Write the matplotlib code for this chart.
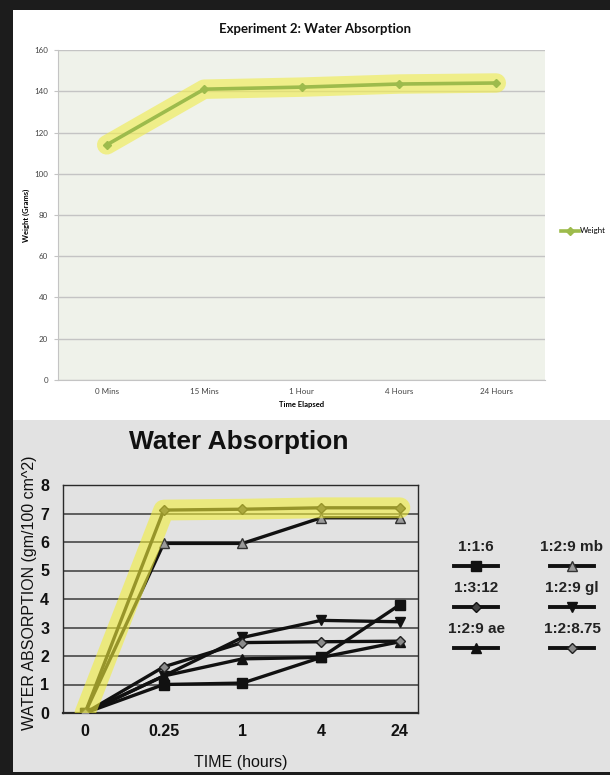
import matplotlib
matplotlib.use("Agg")
import matplotlib.pyplot as plt
from matplotlib.lines import Line2D
from matplotlib.patches import Rectangle

# ---- data: top chart (Excel)
top_cats = ["0 Mins", "15 Mins", "1 Hour", "4 Hours", "24 Hours"]
top_weight = [114, 141, 142, 143.5, 144]

# ---- data: bottom chart (scanned)
bot_cats = ["0", "0.25", "1", "4", "24"]
s_116 = [0, 1.0, 1.05, 1.95, 3.8]
s_129mb = [0, 5.95, 5.95, 6.85, 6.85]
s_1312 = [0, 7.12, 7.15, 7.2, 7.2]
s_129gl = [0, 1.3, 2.65, 3.25, 3.2]
s_129ae = [0, 1.3, 1.9, 1.95, 2.5]
s_12875 = [0, 1.62, 2.47, 2.5, 2.52]

W, H = 610, 775
fig = plt.figure(figsize=(W / 100, H / 100), dpi=100)
fig.patch.set_facecolor("#1c1c1c")


def fx(px):
    return px / W


def fy(py):
    return 1 - py / H


# panels (white excel chart, gray scan) -- they touch, no dark seam
fig.add_artist(Rectangle((fx(13), fy(420)), fx(597), 410 / H,
                         transform=fig.transFigure, fc="white", ec="none", zorder=0))
fig.add_artist(Rectangle((fx(13), fy(772)), fx(597), 352 / H,
                         transform=fig.transFigure, fc="#e2e2e2", ec="none", zorder=0))

# ---------------------------------------------------------------- top chart
XL = ["Lato", "DejaVu Sans"]
GREEN = "#9dbb4c"
ax1 = fig.add_axes([fx(58), fy(380), fx(487), 330 / H])
ax1.set_facecolor("#eff2ea")
xi = range(len(top_cats))
ax1.plot(xi, top_weight, color="#f0ec55", lw=14, alpha=0.65,
         solid_capstyle="round", solid_joinstyle="round", zorder=2)
ax1.plot(xi, top_weight, color=GREEN, lw=2.6, marker="D", ms=4.5,
         mfc=GREEN, mec=GREEN, label="Weight", zorder=3)
ax1.set_xlim(-0.5, 4.5)
ax1.set_ylim(0, 160)
ax1.set_yticks(range(0, 161, 20))
ax1.set_xticks(list(xi))
ax1.set_xticklabels(top_cats)
ax1.grid(axis="y", color="#c4c4c4", lw=1)
ax1.set_axisbelow(True)
for sp in ("top", "right"):
    ax1.spines[sp].set_visible(False)
for sp in ("left", "bottom"):
    ax1.spines[sp].set_color("#c4c4c4")
ax1.tick_params(axis="y", length=3, color="#c4c4c4", labelsize=5.8,
                labelcolor="#444444", pad=4)
ax1.tick_params(axis="x", length=0, labelsize=5.8, labelcolor="#444444", pad=6)
for t in ax1.get_xticklabels() + ax1.get_yticklabels():
    t.set_family(XL)
ax1.set_ylabel("Weight (Grams)", fontsize=5.5, fontweight="bold", family=XL, labelpad=3)
ax1.set_xlabel("Time Elapsed", fontsize=5.5, fontweight="bold", family=XL, labelpad=4)
fig.text(fx(315), fy(29), "Experiment 2: Water Absorption", ha="center", va="center",
         fontsize=9.5, fontweight="bold", family=XL, color="#111111")
ax1.legend(loc="center left", bbox_to_anchor=(fx(561), fy(231)),
           bbox_transform=fig.transFigure, frameon=False,
           handlelength=2.2, handletextpad=0.1, borderpad=0, borderaxespad=0,
           prop={"family": XL, "size": 5.8})

# ---------------------------------------------------------------- bottom chart
AR = ["Liberation Sans", "DejaVu Sans"]
INK = "#111111"
series = [
    ("1:1:6", s_116, dict(marker="s", ms=7, mfc=INK, mec=INK)),
    ("1:2:9 mb", s_129mb, dict(marker="^", ms=7, mfc="#9a9a9a", mec="#333333", mew=1)),
    ("1:3:12", s_1312, dict(marker="D", ms=5, mfc="#444444", mec=INK)),
    ("1:2:9 gl", s_129gl, dict(marker="v", ms=7, mfc=INK, mec=INK)),
    ("1:2:9 ae", s_129ae, dict(marker="^", ms=7, mfc=INK, mec=INK)),
    ("1:2:8.75", s_12875, dict(marker="D", ms=5, mfc="#8a8a8a", mec="#222222", mew=1)),
]

ax2 = fig.add_axes([fx(63), fy(713), fx(355), 228 / H])
ax2.set_facecolor("none")
xb = range(len(bot_cats))
for name, vals, st in series:
    ax2.plot(xb, vals, color=INK, lw=2.4, zorder=3, **st)
ax2.plot(xb, s_1312, color="#f2ee3c", lw=15, alpha=0.6,
         solid_capstyle="round", solid_joinstyle="round", zorder=4)
ax2.set_xlim(-0.28, 4.23)
ax2.set_ylim(0, 8)
ax2.set_yticks(range(0, 9))
ax2.set_xticks(list(xb))
ax2.set_xticklabels(bot_cats)
ax2.grid(axis="y", color="#3a3a3a", lw=1.1)
ax2.set_axisbelow(True)
for sp in ax2.spines.values():
    sp.set_color("#2a2a2a")
    sp.set_linewidth(1.0)
ax2.spines["bottom"].set_linewidth(1.6)
ax2.tick_params(length=0, labelsize=11.5, labelcolor=INK, pad=8)
for t in ax2.get_xticklabels() + ax2.get_yticklabels():
    t.set_family(AR)
    t.set_fontweight("bold")
ax2.tick_params(axis="y", pad=10)
fig.text(fx(30), fy(593), "WATER ABSORPTION (gm/100 cm^2)", rotation=90,
         ha="center", va="center", fontsize=11.5, family=AR, color=INK)
fig.text(fx(241), fy(763), "TIME (hours)", ha="center", va="center",
         fontsize=11.5, family=AR, color=INK)
fig.text(fx(239), fy(442), "Water Absorption", ha="center", va="center",
         fontsize=19, fontweight="bold", family=AR, color=INK)

# hand-placed two-column legend (label above sample line)
col_x = [476, 572]
row_y = [547, 588, 629]
for k, (name, vals, st) in enumerate(series):
    cx, ry = col_x[k % 2], row_y[k // 2]
    fig.text(fx(cx), fy(ry), name, ha="center", va="center", fontsize=11,
             fontweight="bold", family=AR, color="#222222")
    fig.add_artist(Line2D([fx(cx - 22), fx(cx + 22)], [fy(ry + 19)] * 2,
                          transform=fig.transFigure, color=INK, lw=2.8))
    fig.add_artist(Line2D([fx(cx)], [fy(ry + 19)], transform=fig.transFigure,
                          lw=0, **st))

fig.savefig("out.png", dpi=100, facecolor=fig.get_facecolor())
